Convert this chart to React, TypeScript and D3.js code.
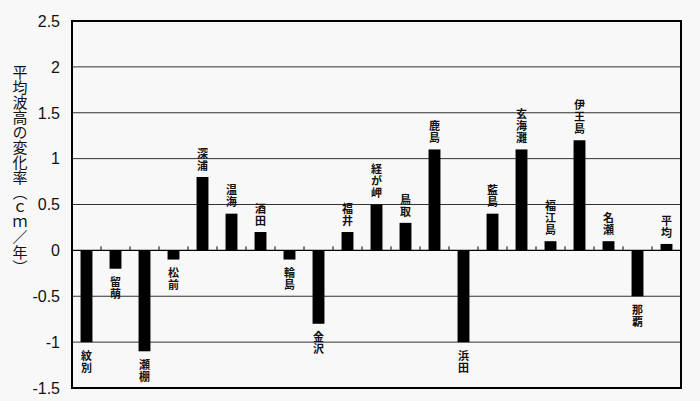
import React from 'react';
import * as d3 from 'd3';

const stations = ['紋別', '留萌', '瀬棚', '松前', '深浦', '温海', '酒田', '輪島', '金沢', '福井', '経が岬', '鳥取', '鹿島', '浜田', '藍島', '玄海灘', '福江島', '伊王島', '名瀬', '那覇', '平均'];
const rates = [-1.0, -0.2, -1.1, -0.1, 0.8, 0.4, 0.2, -0.1, -0.8, 0.2, 0.5, 0.3, 1.1, -1.0, 0.4, 1.1, 0.1, 1.2, 0.1, -0.5, 0.07];
const yTicks = [-1.5, -1, -0.5, 0, 0.5, 1, 1.5, 2, 2.5];
const yTitle = '平均波高の変化率（ｃｍ／年）';

const W = 700;
const H = 401;
const M = { top: 21, right: 19, bottom: 13, left: 72 };

export default function App() {
  const x = d3.scaleBand<string>()
    .domain(stations)
    .range([M.left, W - M.right])
    .paddingInner(0.59)
    .paddingOuter(0.295);
  const y = d3.scaleLinear().domain([-1.5, 2.5]).range([H - M.bottom, M.top]);
  const step = x.step();
  const bw = x.bandwidth();
  const y0 = y(0);
  const vert = { writingMode: 'vertical-rl' as any };

  return (
    <div style={{ width: W, height: H, background: '#f8f8f8' }}>
      <style>{`body{margin:0;background:#f8f8f8}`}</style>
      <svg width={W} height={H} style={{ display: 'block' }}>
        {/* grid */}
        {yTicks.filter(t => t !== 0 && t !== 2.5 && t !== -1.5).map(t => (
          <line key={t} x1={M.left} x2={W - M.right} y1={y(t)} y2={y(t)} stroke="#333" strokeWidth={1} />
        ))}
        {/* tick labels */}
        {yTicks.map(t => (
          <text key={t} x={60} y={y(t)} dy="0.36em" textAnchor="end"
            fontFamily="'Liberation Sans', Arial, sans-serif" fontSize={16} fill="#111">
            {String(t)}
          </text>
        ))}
        {/* bars */}
        {stations.map((s, i) => {
          const v = rates[i];
          const top = v >= 0 ? y(v) : y0;
          const bot = v >= 0 ? y0 : y(v);
          return <rect key={s} x={x(s)} y={top} width={bw} height={bot - top} fill="#000" />;
        })}
        {/* zero line and ticks */}
        <line x1={M.left} x2={W - M.right} y1={y0} y2={y0} stroke="#000" strokeWidth={1.3} />
        {stations.slice(1).map(s => {
          const bx = (x(s) as number) - (step - bw) / 2;
          return <line key={s} x1={bx} x2={bx} y1={y0} y2={y0 - 4} stroke="#000" strokeWidth={1} />;
        })}
        {/* station labels, vertical */}
        {stations.map((s, i) => {
          const v = rates[i];
          const cx = (x(s) as number) + bw / 2;
          return (
            <text key={s} x={cx} y={v >= 0 ? y(v) - 5 : y(v) + 8}
              textAnchor={v >= 0 ? 'end' : 'start'} letterSpacing={1}
              fontFamily="'Noto Sans CJK JP', sans-serif" fontSize={11} fontWeight="bold" fill="#111"
              style={vert}>
              {s}
            </text>
          );
        })}
        {/* frame */}
        <rect x={M.left} y={M.top} width={W - M.left - M.right} height={H - M.top - M.bottom}
          fill="none" stroke="#000" strokeWidth={2} />
        {/* y title */}
        <text x={20} y={65} fontFamily="'Noto Sans CJK JP', sans-serif"
          fontSize={15} fill="#111" style={vert}>
          {yTitle}
        </text>
      </svg>
    </div>
  );
}
